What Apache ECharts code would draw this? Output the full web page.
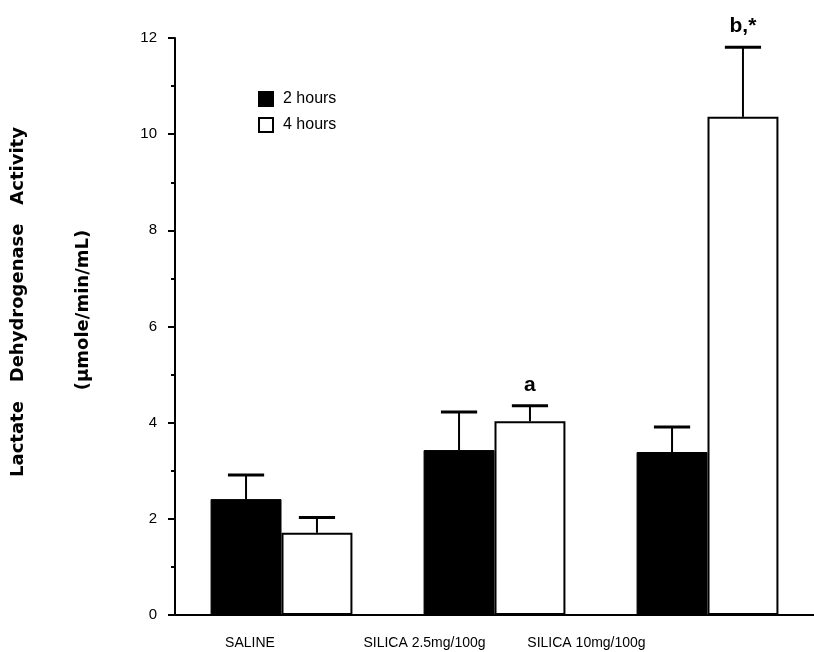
<!DOCTYPE html>
<html>
<head>
<meta charset="utf-8">
<script src="https://cdn.jsdelivr.net/npm/echarts@6/dist/echarts.min.js"></script>
<style>
html,body{margin:0;padding:0;background:#fff;}
#chart{width:814px;height:652px;}
</style>
</head>
<body>
<div id="chart"></div>
<script>
const categories = ['SALINE', 'SILICA 2.5mg/100g', 'SILICA 10mg/100g'];
const seriesNames = ['2 hours', '4 hours'];
const hours2 = [2.41, 3.43, 3.39];
const hours2Err = [0.50, 0.79, 0.52];
const hours4 = [1.71, 4.03, 10.36];
const hours4Err = [0.32, 0.32, 1.45];
const annotations4 = ['', 'a', 'b,*'];
const yTicks = [0, 2, 4, 6, 8, 10, 12];
const yTitle = 'Lactate   Dehydrogenase   Activity';
const yUnit = '(\u00b5mole/min/mL)';

const BAR_FRAC = 0.333;
const CAP_FRAC = 0.17;

function errData(means, errs, notes) {
  return means.map((m, i) => [i, m, errs[i], notes ? notes[i] : '']);
}

function makeErrRender(sign, notes) {
  return function (params, api) {
    const idx = api.value(0);
    const mean = api.value(1);
    const err = api.value(2);
    const note = notes ? notes[idx] : '';
    const base = api.coord([idx, mean]);
    const top = api.coord([idx, mean + err]);
    const band = api.size([1, 0])[0];
    const x = base[0] + sign * band * BAR_FRAC / 2;
    const capHalf = band * CAP_FRAC / 2;
    const children = [
      { type: 'line', shape: { x1: x, y1: base[1], x2: x, y2: top[1] },
        style: { stroke: '#000', lineWidth: 2 } },
      { type: 'line', shape: { x1: x - capHalf, y1: top[1], x2: x + capHalf, y2: top[1] },
        style: { stroke: '#000', lineWidth: 3 } }
    ];
    if (note) {
      children.push({ type: 'text', style: { text: note, x: x, y: top[1] - 10,
        align: 'center', verticalAlign: 'bottom', fill: '#000',
        font: 'bold 21px "Liberation Sans", Arial, sans-serif' } });
    }
    return { type: 'group', children: children };
  };
}

const labelShift = [63, 140, 242];
const rich = {};
labelShift.forEach((s, i) => {
  rich['l' + i] = { padding: [0, s, 0, 0], fontSize: 14, color: '#000',
    fontFamily: '"Liberation Sans", Arial, sans-serif' };
});

const chart = echarts.init(document.getElementById('chart'), null, { renderer: 'canvas' });
chart.setOption({
  backgroundColor: '#fff',
  animation: false,
  grid: { left: 175, right: 0, top: 38, bottom: 37, containLabel: false },
  legend: {
    data: seriesNames,
    orient: 'vertical',
    left: 258, top: 91, padding: 0,
    itemWidth: 14, itemHeight: 14, itemGap: 10,
    icon: 'rect',
    textStyle: { fontSize: 16, color: '#000', padding: [0, 0, 0, 5],
      fontFamily: '"Liberation Sans", Arial, sans-serif' }
  },
  xAxis: {
    type: 'category',
    data: categories,
    axisLine: { lineStyle: { color: '#000', width: 2 } },
    axisTick: { show: false },
    axisLabel: {
      interval: 0, margin: 21, hideOverlap: false,
      formatter: (v, i) => '{l' + i + '|' + v + '}',
      rich: rich
    }
  },
  yAxis: {
    type: 'value',
    min: yTicks[0], max: yTicks[yTicks.length - 1], interval: 2,
    axisLine: { show: true, lineStyle: { color: '#000', width: 2 } },
    axisTick: { show: true, length: 7, lineStyle: { color: '#000', width: 2 } },
    minorTick: { show: true, splitNumber: 2, length: 4, lineStyle: { color: '#000', width: 2 } },
    splitLine: { show: false },
    axisLabel: { margin: 18, fontSize: 15, color: '#000', fontFamily: '"Liberation Sans", Arial, sans-serif' }
  },
  graphic: [
    { type: 'text', x: 18, y: 302, rotation: Math.PI / 2,
      style: { text: yTitle, align: 'center', verticalAlign: 'middle',
        fill: '#000', font: 'bold 18px "DejaVu Sans", sans-serif' } },
    { type: 'text', x: 83, y: 310, rotation: Math.PI / 2,
      style: { text: yUnit, align: 'center', verticalAlign: 'middle',
        fill: '#000', font: 'bold 18px "DejaVu Sans", sans-serif' } }
  ],
  series: [
    { name: seriesNames[0], type: 'bar', data: hours2, barWidth: '33.3%', barGap: '0%',
      itemStyle: { color: '#000', borderColor: '#000', borderWidth: 1 } },
    { name: seriesNames[1], type: 'bar', data: hours4, barWidth: '33.3%', barGap: '0%',
      itemStyle: { color: '#fff', borderColor: '#000', borderWidth: 2 } },
    { type: 'custom', renderItem: makeErrRender(-1, null), data: errData(hours2, hours2Err), z: 5,
      silent: true, encode: { x: 0, y: 1 } },
    { type: 'custom', renderItem: makeErrRender(1, annotations4), data: errData(hours4, hours4Err, annotations4), z: 5,
      silent: true, encode: { x: 0, y: 1 } }
  ]
});
</script>
</body>
</html>
